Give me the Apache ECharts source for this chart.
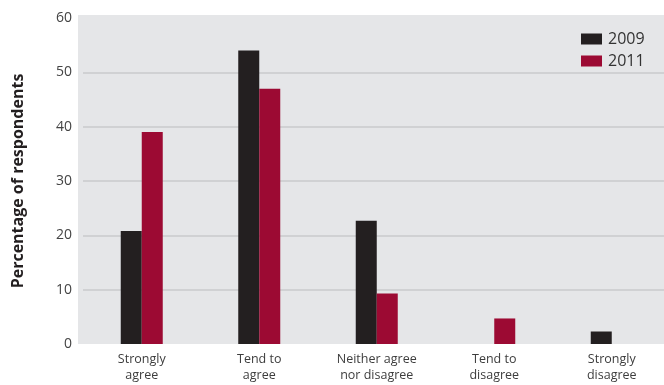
<!DOCTYPE html>
<html>
<head>
<meta charset="utf-8">
<script src="https://cdn.jsdelivr.net/npm/echarts@6/dist/echarts.min.js"></script>
<style>
  html, body { margin: 0; padding: 0; background: #ffffff; }
  #chart { width: 664px; height: 385px; }
</style>
</head>
<body>
<div id="chart"></div>
<script>
// Survey responses by year
const categories = ['Strongly\nagree', 'Tend to\nagree', 'Neither agree\nnor disagree', 'Tend to\ndisagree', 'Strongly\ndisagree'];
const values2009 = [20.8, 54, 22.7, 0, 2.3];
const values2011 = [39, 47, 9.3, 4.7, 0];
const yTicks = [0, 10, 20, 30, 40, 50, 60];

const FONT = '"Open Sans", sans-serif';
const DARK = '#231f20';
const RED = '#9c0a33';

const chart = echarts.init(document.getElementById('chart'), null, { renderer: 'canvas' });

chart.setOption({
  animation: false,
  backgroundColor: '#ffffff',
  textStyle: { fontFamily: FONT },
  graphic: [{
    type: 'rect',
    z: -10,
    shape: { x: 78, y: 15, width: 586, height: 329 },
    style: { fill: '#e5e6e8' },
    silent: true
  }],
  // the last category runs slightly past the right edge of the canvas
  grid: { left: 83, top: 18, width: 587.5, bottom: 41, outerBoundsMode: 'none' },
  legend: {
    orient: 'vertical',
    left: 576,
    top: 26,
    itemWidth: 21,
    itemHeight: 11,
    itemGap: 6,
    icon: 'rect',
    textStyle: { fontFamily: FONT, fontSize: 16, color: '#333333', padding: [0, 0, 0, 1] },
    data: ['2009', '2011']
  },
  xAxis: {
    type: 'category',
    data: categories,
    axisLine: { show: false },
    axisTick: { show: false },
    axisLabel: {
      margin: 7,
      fontFamily: FONT,
      fontSize: 12.5,
      lineHeight: 16,
      color: '#3d3d3d',
      interval: 0
    }
  },
  yAxis: {
    type: 'value',
    min: yTicks[0],
    max: yTicks[yTicks.length - 1],
    interval: 10,
    name: 'Percentage of respondents',
    nameLocation: 'middle',
    nameGap: 57,
    nameTextStyle: { fontFamily: FONT, fontSize: 16, fontWeight: 'bold', color: '#231f20' },
    axisLine: { show: false },
    axisTick: { show: false },
    axisLabel: { margin: 11, fontFamily: FONT, fontSize: 14, color: '#444444' },
    splitLine: {
      show: true,
      lineStyle: { color: '#c9cacd', width: 1.5 },
      showMinLine: false,
      showMaxLine: false
    }
  },
  series: [
    {
      name: '2009',
      type: 'bar',
      data: values2009,
      barWidth: 21,
      barGap: '0%',
      itemStyle: { color: DARK }
    },
    {
      name: '2011',
      type: 'bar',
      data: values2011,
      barWidth: 21,
      barGap: '0%',
      itemStyle: { color: RED }
    }
  ]
});
</script>
</body>
</html>
